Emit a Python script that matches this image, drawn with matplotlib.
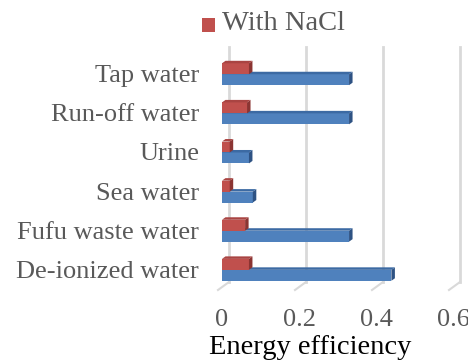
import matplotlib
matplotlib.use("Agg")
import matplotlib.pyplot as plt
from matplotlib.patches import Polygon, Rectangle
from matplotlib.lines import Line2D

# Energy efficiency per water source
categories = ["De-ionized water", "Fufu waste water", "Sea water", "Urine",
              "Run-off water", "Tap water"]
without_nacl = [0.44, 0.33, 0.08, 0.07, 0.33, 0.33]
with_nacl = [0.07, 0.06, 0.02, 0.02, 0.065, 0.07]
xticks = [0, 0.2, 0.4, 0.6]
xtick_labels = ["0", "0.2", "0.4", "0.6"]

W, H = 468, 360
plt.rcParams["font.family"] = ["Liberation Serif", "DejaVu Serif"]
fig = plt.figure(figsize=(W / 100, H / 100), dpi=100)
fig.patch.set_facecolor("white")

ax_left, ax_right, ax_top, ax_bottom = 222, 453, 50, 289
ax = fig.add_axes([ax_left / W, (H - ax_bottom) / H,
                   (ax_right - ax_left) / W, (ax_bottom - ax_top) / H])
ax.set_xlim(0, 0.6)
ax.set_ylim(-0.49, 5.62)
ax.axis("off")

# pixel -> data unit conversions for the pseudo-3D depth
px_x = 0.6 / (ax_right - ax_left)
px_y = (5.62 + 0.49) / (ax_bottom - ax_top)

grid_c = "#D9D9D9"
# back-wall gridlines and floor ticks
for t in xticks:
    bx = t + 7 * px_x
    ax.add_line(Line2D([bx, bx], [-0.49 + 7 * px_y, 5.62 + 3 * px_y],
                       color=grid_c, lw=2, clip_on=False, zorder=0))
    ax.add_line(Line2D([t - 4 * px_x, bx], [-0.49 - 1 * px_y, -0.49 + 7 * px_y],
                       color=grid_c, lw=1.5, clip_on=False, zorder=0))

bh = 0.28
dx, dy = 3.5 * px_x, 2.5 * px_y


def bar3d(x, y0, h, front, side, top):
    ax.add_patch(Rectangle((0, y0), x, h, facecolor=front, edgecolor="none",
                           zorder=3))
    ax.add_patch(Polygon([(x, y0), (x + dx, y0 + dy), (x + dx, y0 + h + dy),
                          (x, y0 + h)], closed=True, facecolor=side,
                         edgecolor="none", zorder=3))
    ax.add_patch(Polygon([(0, y0 + h), (dx, y0 + h + dy), (x + dx, y0 + h + dy),
                          (x, y0 + h)], closed=True, facecolor=top,
                         edgecolor="none", zorder=3))


ys = list(range(len(categories)))
for y, b, r in zip(ys, without_nacl, with_nacl):
    bar3d(b, y - bh, bh, "#4F81BD", "#2E5283", "#3C6AA3")
    bar3d(r, y, bh, "#C0504D", "#8B3432", "#A94442")

# category labels
for y, c in zip(ys, categories):
    ax.text(-23 * px_x, y - 0.05, c, ha="right", va="center", fontsize=19,
            color="#595959", clip_on=False)

# value axis labels
for t, lab in zip(xticks, xtick_labels):
    ax.text(t, -0.49 - 31 * px_y, lab, ha="center", va="center", fontsize=19,
            color="#595959", clip_on=False)

fig.text(310 / W, (H - 348) / H, "Energy efficiency", ha="center", va="center",
         fontsize=20.5, color="black")

# legend
fig.patches.append(Rectangle((202 / W, (H - 32) / H), 13 / W, 14 / H,
                             facecolor="#C0504D", edgecolor="none",
                             transform=fig.transFigure, figure=fig))
fig.text(222 / W, (H - 24) / H, "With NaCl", ha="left", va="center",
         fontsize=20.5, color="#595959")

fig.savefig("out.png", dpi=100)
